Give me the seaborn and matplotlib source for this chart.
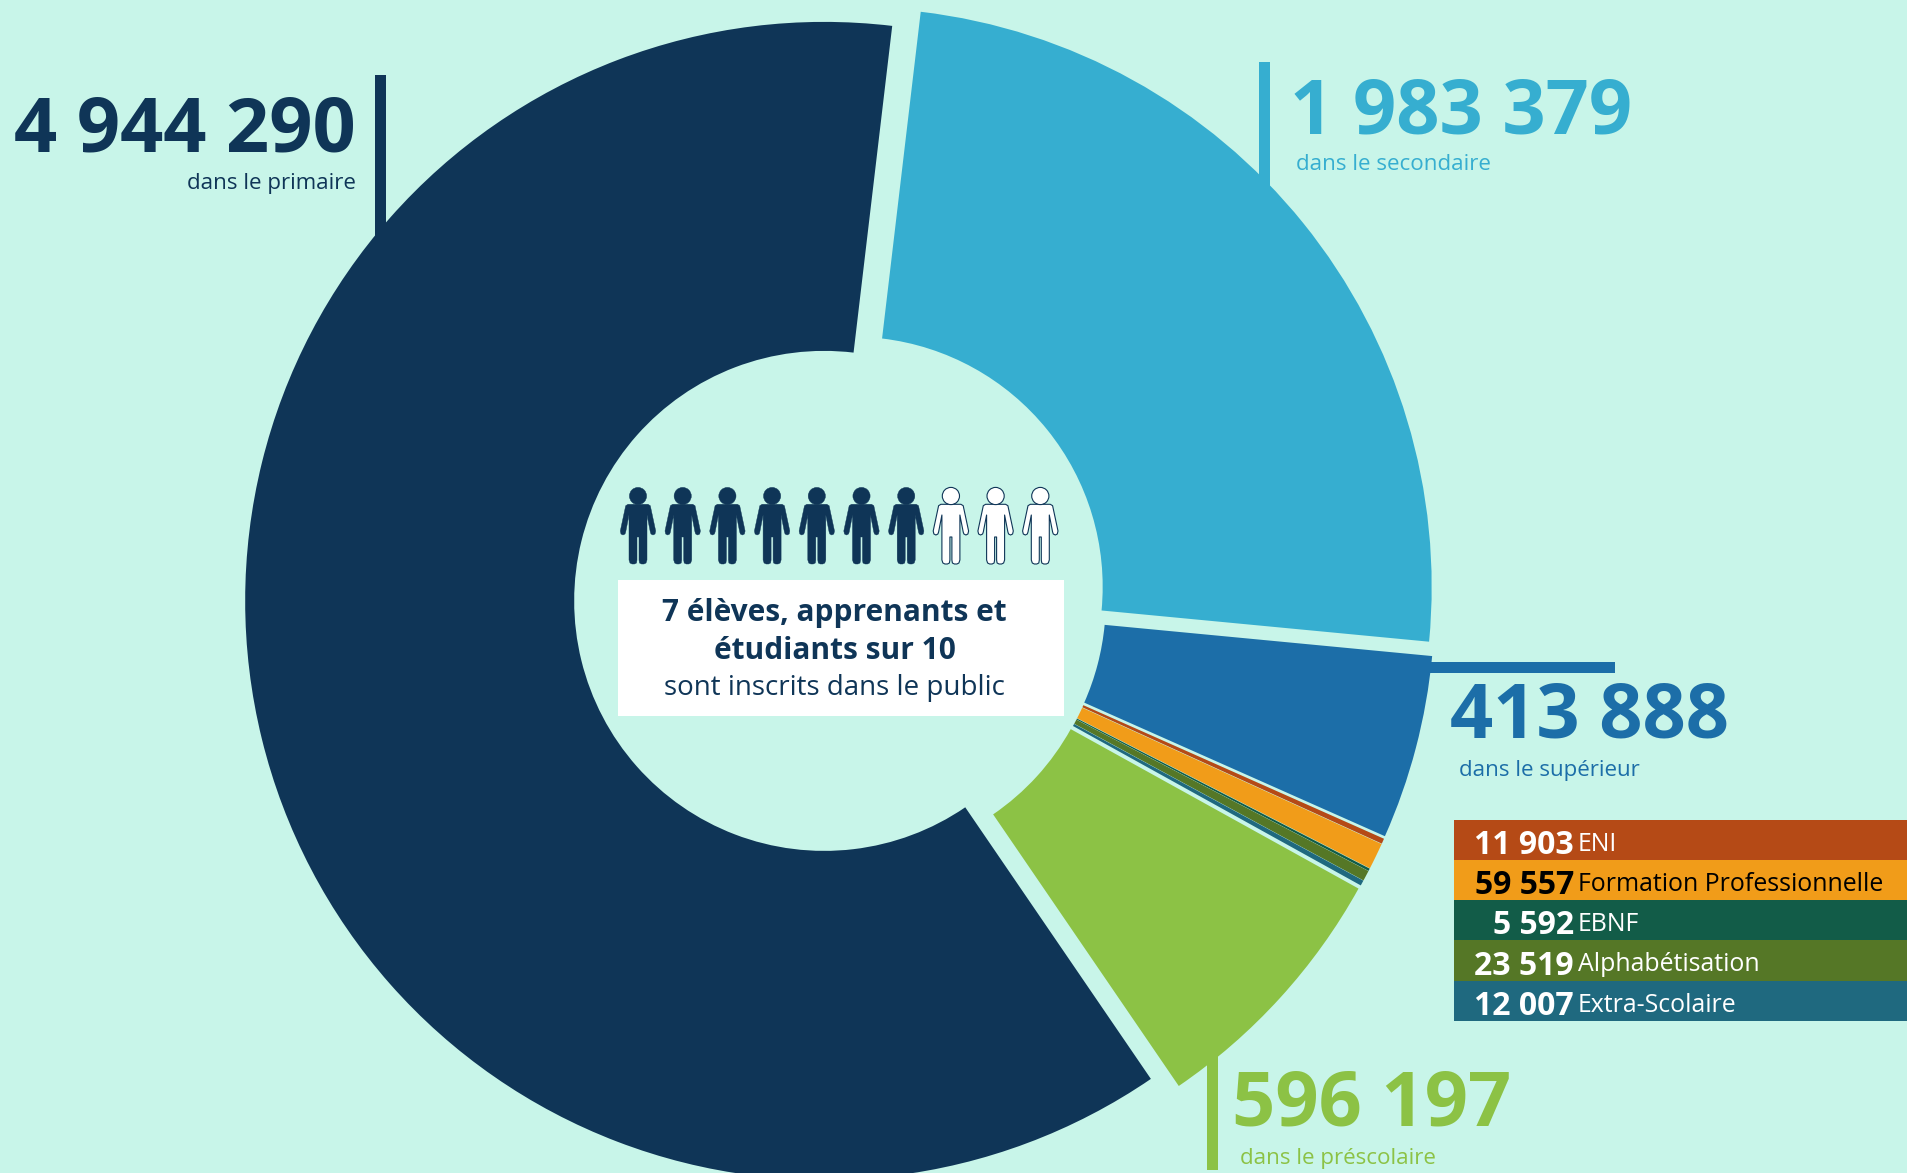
import matplotlib
matplotlib.use("Agg")
import matplotlib.pyplot as plt
import seaborn as sns
from matplotlib.patches import Circle, PathPatch, Rectangle
from matplotlib.path import Path

W, H = 1907, 1173
BG = "#C8F5E9"
DARK = "#0F3557"

# clockwise from the secondary wedge
slices = ["secondaire", "supérieur", "ENI", "Formation Professionnelle", "EBNF",
          "Alphabétisation", "Extra-Scolaire", "préscolaire", "primaire"]
values = [1983379, 413888, 11903, 59557, 5592, 23519, 12007, 596197, 4944290]
colors = ["#36AED0", "#1C6EA8", "#B54A16", "#F19C19", "#125C48",
          "#557726", "#1F697F", "#8CC245", DARK]

small_names = ["ENI", "Formation Professionnelle", "EBNF", "Alphabétisation", "Extra-Scolaire"]
small_values = [11903, 59557, 5592, 23519, 12007]
small_colors = ["#B54A16", "#F19C19", "#125C48", "#557726", "#1F697F"]
small_text = ["white", "black", "white", "white", "white"]

n_people = 10
n_public = 7


def fmt(v):
    return f"{v:,}".replace(",", " ")


def py(y):
    return H - y


sns.set_theme(style="white")
plt.rcParams["font.family"] = ["Open Sans", "DejaVu Sans"]

fig = plt.figure(figsize=(W / 100, H / 100), dpi=100, facecolor=BG)
ax = fig.add_axes([0, 0, 1, 1])
ax.set_facecolor(BG)

ax.pie(values, colors=colors, startangle=83.25, counterclock=False,
       center=(840, py(597)), radius=579, explode=[16.3] * len(values),
       wedgeprops={"width": 329, "linewidth": 0})
ax.set_xlim(0, W)
ax.set_ylim(0, H)
ax.set_aspect("auto")
ax.axis("off")

# callout rules, they run under the ring
rules = [(375, 75, 11, 170, DARK), (1259, 62, 11, 130, colors[0]),
         (1430, 662, 185, 11, colors[1]), (1207, 1040, 11, 130, colors[7])]
for x, y, w, h, c in rules:
    ax.add_patch(Rectangle((x, py(y + h)), w, h, color=c, lw=0, zorder=0.5))


def big_label(x, y, y2, x2, value, name, color, ha):
    ax.text(x, py(y), fmt(value), color=color, fontsize=54.5, fontweight="bold", ha=ha, va="baseline")
    ax.text(x2, py(y2), name, color=color, fontsize=16.1, ha=ha, va="baseline")


big_label(356, 151, 189, 356, 4944290, "dans le primaire", DARK, "right")
big_label(1290, 134, 170.5, 1296, 1983379, "dans le secondaire", colors[0], "left")
big_label(1450, 737, 776, 1459, 413888, "dans le supérieur", colors[1], "left")
big_label(1232, 1125, 1164, 1240, 596197, "dans le préscolaire", colors[7], "left")


# little person, half outline in px around the centre line
half = [(0, 34.3), (10, 34.3), (12.3, 35.7), (17.7, 61), (17, 64), (15, 65), (13, 64), (12.3, 62), (9, 45),
        (9, 90), (8, 93), (6, 94), (3.5, 94), (1.5, 93), (1, 90), (1, 67), (0, 67)]


def person(cx, filled):
    top = 470
    pts = [(cx + a, py(top + b)) for a, b in half]
    pts += [(cx - a, py(top + b)) for a, b in reversed(half[:-1])]
    face = DARK if filled else "white"
    lw = 0.3 if filled else 0.8
    path = Path(pts + [pts[0]], closed=True)
    ax.add_patch(PathPatch(path, facecolor=face, edgecolor=DARK, lw=lw, joinstyle="round", zorder=3))
    ax.add_patch(Circle((cx, py(496)), 8.6, facecolor=face, edgecolor=DARK, lw=lw, zorder=3))


for i in range(n_people):
    person(638 + i * 44.7, i < n_public)

ax.add_patch(Rectangle((618, py(716)), 446, 136, color="white", lw=0, zorder=3))
ax.text(834.7, py(621), "7 élèves, apprenants et", color=DARK, fontsize=21.5, fontweight="bold",
        ha="center", va="baseline", zorder=4)
ax.text(834.7, py(659), "étudiants sur 10", color=DARK, fontsize=21.5, fontweight="bold",
        ha="center", va="baseline", zorder=4)
ax.text(834.7, py(695), "sont inscrits dans le public", color=DARK, fontsize=20,
        ha="center", va="baseline", zorder=4)

# strip with the small categories
lax = fig.add_axes([1454 / W, 1 - 1020.7 / H, (W - 1454) / W, 200.7 / H])
sns.barplot(y=small_names, x=[1] * len(small_names), hue=small_names, palette=small_colors,
            width=1, legend=False, ax=lax, saturation=1, linewidth=0)
lax.set_xlim(0, 1)
lax.set_ylim(4.5, -0.5)
lax.axis("off")
for i, (name, v, tc) in enumerate(zip(small_names, small_values, small_text)):
    lax.text(0.265, i + 0.14, fmt(v), color=tc, fontsize=23, fontweight="bold", ha="right", va="center")
    lax.text(0.274, i + 0.11, name, color=tc, fontsize=17.9, ha="left", va="center")

fig.savefig("out.png", dpi=100, facecolor=BG)
